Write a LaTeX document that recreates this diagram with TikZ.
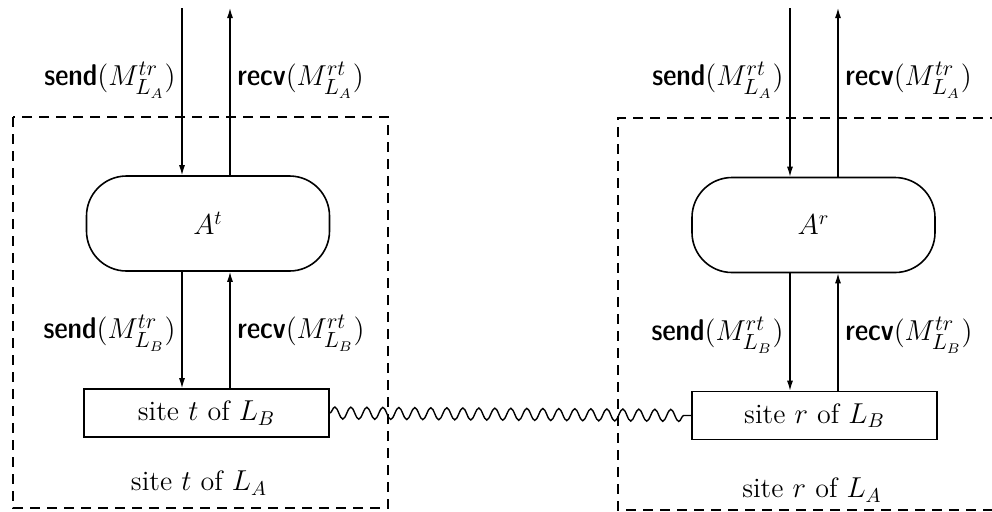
\documentclass[tikz,border=0pt]{standalone}
\usetikzlibrary{arrows.meta,decorations.pathmorphing}
\newcommand{\opname}[1]{\text{\fontseries{sbc}\sffamily #1}}
\usepackage{amsmath}
\begin{document}
\begin{tikzpicture}[x=0.5pt,y=-0.5pt,
  every node/.style={font=\fontsize{14}{17}\selectfont},
  pill/.style={draw,line width=0.8pt,rounded corners=20pt,minimum width=121.5pt,minimum height=47.5pt,inner sep=0pt},
  sitebox/.style={draw,line width=0.8pt,minimum width=122.5pt,minimum height=24pt,inner sep=0pt},
  frame/.style={draw,line width=0.7pt,dash pattern=on 5pt off 3.5pt},
  msg/.style={line width=0.6pt,-{Latex[length=5pt,width=3pt]}},
  lbl/.style={inner sep=1pt,font=\fontsize{15}{18}\selectfont},
  wave/.style={line width=0.7pt,decorate,decoration={snake,segment length=8pt,amplitude=3pt}}]
\useasboundingbox (0,0) rectangle (992,511);
% frames
\draw[frame] (13,117) rectangle (388,508);
\draw[frame] (1000,118) -- (618,118) -- (618,510) -- (1000,510);
% left site
\node[pill] (At) at (208,223.5) {$A^t$};
\node[sitebox] (Bt) at (206.5,413) {site $t$ of $L_B$};
\node (LAt) at (199,483) {site $t$ of $L_A$};
\coordinate (tt1) at (182,8);
\coordinate (tt2) at (230,8);
\draw[msg] (tt1) -- (tt1 |- At.north);
\draw[msg] (tt2 |- At.north) -- (tt2);
\draw[msg] (tt1 |- At.south) -- (tt1 |- Bt.north);
\draw[msg] (tt2 |- Bt.north) -- (tt2 |- At.south);
\node[lbl,anchor=east] (s1) at (178,80) {$\opname{send}(M^{tr}_{L_A})$};
\node[lbl,anchor=west] (r1) at (235,80) {$\opname{recv}(M^{rt}_{L_A})$};
\node[lbl,anchor=east] (s2) at (178,333) {$\opname{send}(M^{tr}_{L_B})$};
\node[lbl,anchor=west] (r2) at (235,333) {$\opname{recv}(M^{rt}_{L_B})$};
% right site
\node[pill] (Ar) at (813.5,225) {$A^r$};
\node[sitebox] (Br) at (814.5,415.5) {site $r$ of $L_B$};
\node (LAr) at (812,490) {site $r$ of $L_A$};
\coordinate (rt1) at (790,8);
\coordinate (rt2) at (838,8);
\draw[msg] (rt1) -- (rt1 |- Ar.north);
\draw[msg] (rt2 |- Ar.north) -- (rt2);
\draw[msg] (rt1 |- Ar.south) -- (rt1 |- Br.north);
\draw[msg] (rt2 |- Br.north) -- (rt2 |- Ar.south);
\node[lbl,anchor=east] (s3) at (786,80) {$\opname{send}(M^{rt}_{L_A})$};
\node[lbl,anchor=west] (r3) at (843,80) {$\opname{recv}(M^{tr}_{L_A})$};
\node[lbl,anchor=east] (s4) at (786,335) {$\opname{send}(M^{rt}_{L_B})$};
\node[lbl,anchor=west] (r4) at (843,335) {$\opname{recv}(M^{tr}_{L_B})$};
% link
\draw[wave] (Bt.east) -- (Br.west);
\end{tikzpicture}
\end{document}
